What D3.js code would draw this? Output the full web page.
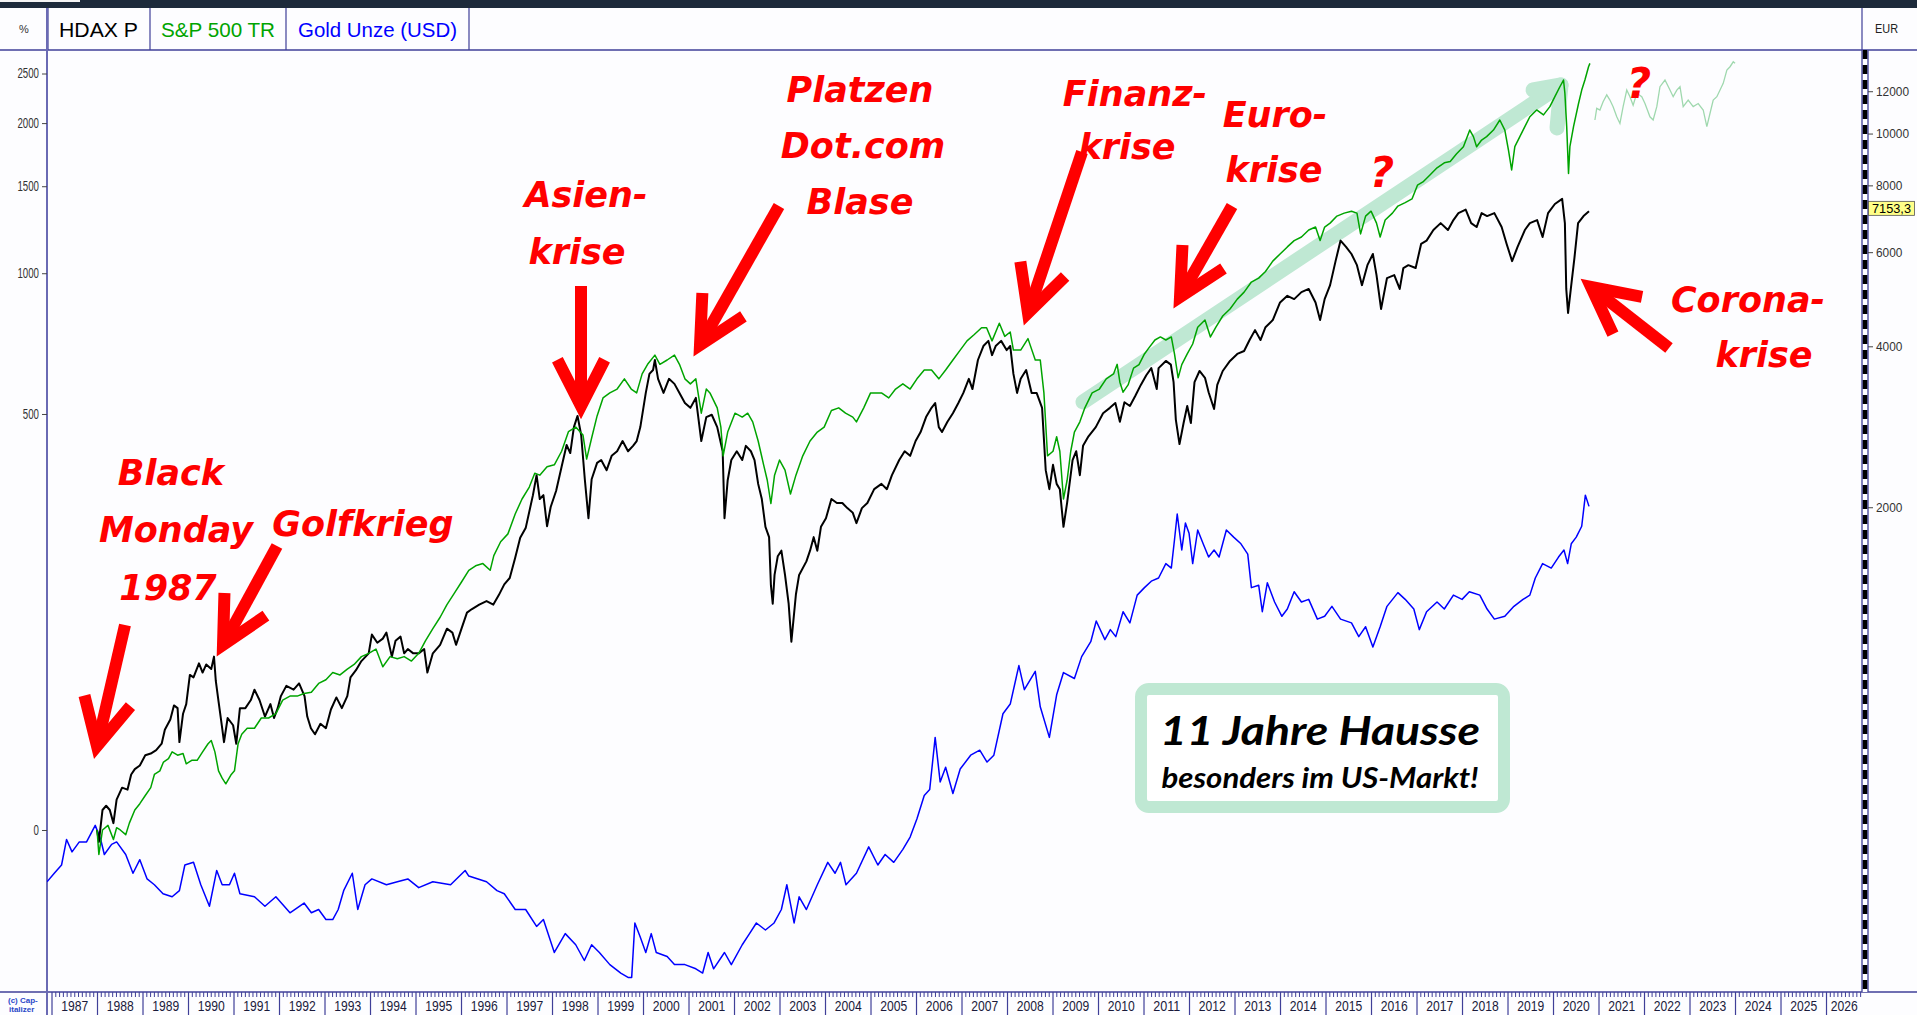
<!DOCTYPE html>
<html>
<head>
<meta charset="utf-8">
<script src="https://cdn.jsdelivr.net/npm/d3@7"></script>
<style>
html, body { margin: 0; padding: 0; background: #fff; overflow: hidden; }
svg { display: block; }
</style>
</head>
<body>
<script>
// ---- data: [decimal year, % change since start] ----
const hdax = [[1987.99,0],[1988.03,-5],[1988.11,9],[1988.19,11],[1988.27,9],[1988.35,3],[1988.42,14],[1988.54,20],[1988.66,19],[1988.74,27],[1988.82,30],[1988.93,32],[1989.05,38],[1989.17,39],[1989.29,41],[1989.41,45],[1989.48,54],[1989.60,61],[1989.68,71],[1989.76,69],[1989.80,46],[1989.88,65],[1989.95,72],[1990.03,95],[1990.11,93],[1990.23,105],[1990.31,97],[1990.39,104],[1990.50,100],[1990.56,111],[1990.60,90],[1990.66,74],[1990.74,55],[1990.78,46],[1990.86,62],[1990.98,57],[1991.05,45],[1991.13,69],[1991.25,69],[1991.37,75],[1991.45,83],[1991.56,75],[1991.68,63],[1991.80,72],[1991.88,62],[1991.96,69],[1992.03,78],[1992.15,86],[1992.31,83],[1992.43,88],[1992.55,78],[1992.61,63],[1992.69,55],[1992.78,51],[1992.90,58],[1993.02,55],[1993.13,68],[1993.25,77],[1993.37,69],[1993.49,78],[1993.56,93],[1993.68,99],[1993.80,107],[1993.96,114],[1994.03,132],[1994.15,124],[1994.27,128],[1994.35,134],[1994.47,111],[1994.55,126],[1994.66,130],[1994.74,114],[1994.82,118],[1994.94,114],[1995.06,114],[1995.18,118],[1995.25,97],[1995.37,114],[1995.53,122],[1995.68,138],[1995.80,134],[1995.88,122],[1996.00,138],[1996.12,155],[1996.23,159],[1996.39,164],[1996.55,168],[1996.70,164],[1996.82,175],[1996.94,188],[1997.06,196],[1997.18,223],[1997.29,252],[1997.41,267],[1997.57,323],[1997.65,361],[1997.72,316],[1997.80,323],[1997.88,270],[1997.96,302],[1998.08,331],[1998.20,378],[1998.31,425],[1998.39,407],[1998.47,467],[1998.55,495],[1998.63,448],[1998.71,353],[1998.79,283],[1998.86,353],[1998.98,386],
  [1999.07,392],[1999.19,371],[1999.30,401],[1999.42,411],[1999.54,434],[1999.66,411],[1999.77,423],[1999.85,434],[1999.93,467],[2000.05,557],[2000.13,613],[2000.21,625],[2000.25,657],[2000.32,598],[2000.44,557],[2000.56,598],[2000.68,583],[2000.79,557],[2000.91,529],[2001.03,516],[2001.15,543],[2001.27,434],[2001.38,492],[2001.50,498],[2001.62,467],[2001.74,411],[2001.78,283],[2001.85,351],[2001.93,392],[2002.05,411],[2002.17,392],[2002.25,423],[2002.36,411],[2002.44,392],[2002.52,344],[2002.60,316],[2002.68,269],[2002.76,253],[2002.80,187],[2002.84,165],[2002.88,200],[2002.95,225],[2003.03,233],[2003.11,200],[2003.19,165],[2003.25,125],[2003.35,176],[2003.42,200],[2003.58,218],[2003.66,233],[2003.74,253],[2003.82,233],[2003.90,269],[2004.01,283],[2004.13,316],[2004.25,309],[2004.37,309],[2004.48,300],[2004.60,292],[2004.68,275],[2004.80,300],[2004.92,309],[2005.07,334],[2005.23,344],[2005.35,334],[2005.46,361],[2005.62,392],[2005.74,411],[2005.86,401],[2005.98,434],[2006.09,455],[2006.21,492],[2006.33,516],[2006.41,529],[2006.49,467],[2006.56,455],[2006.68,480],[2006.80,502],[2006.92,529],[2007.03,557],[2007.15,598],[2007.23,568],[2007.35,657],[2007.47,704],[2007.58,722],[2007.66,673],[2007.74,704],[2007.86,722],[2007.98,690],[2008.06,704],[2008.13,613],[2008.21,557],[2008.29,598],[2008.41,625],[2008.53,557],[2008.64,557],[2008.76,516],[2008.84,371],[2008.92,334],[2009.00,382],[2009.08,344],[2009.15,334],[2009.23,269],[2009.31,309],[2009.43,392],[2009.51,411],[2009.59,361],[2009.66,423],[2009.78,445],[2009.94,467],[2010.10,502],[2010.25,516],[2010.37,529],[2010.47,480],
  [2010.57,531],[2010.69,521],[2010.81,549],[2010.93,580],[2011.05,609],[2011.16,631],[2011.28,568],[2011.32,631],[2011.48,654],[2011.59,642],[2011.65,588],[2011.70,485],[2011.78,427],[2011.87,477],[2011.95,521],[2012.03,477],[2012.11,588],[2012.22,622],[2012.34,601],[2012.42,559],[2012.54,513],[2012.61,580],[2012.73,622],[2012.89,654],[2013.05,677],[2013.20,687],[2013.32,725],[2013.44,761],[2013.56,725],[2013.67,772],[2013.83,799],[2013.99,870],[2014.15,898],[2014.30,884],[2014.46,914],[2014.62,928],[2014.77,870],[2014.87,799],[2014.97,884],[2015.09,945],[2015.21,1059],[2015.32,1166],[2015.44,1132],[2015.56,1095],[2015.68,1039],[2015.79,945],[2015.91,1039],[2016.03,1095],[2016.11,991],[2016.21,843],[2016.34,977],[2016.50,991],[2016.62,928],[2016.70,1025],[2016.81,1039],[2016.97,1025],[2017.09,1148],[2017.21,1166],[2017.36,1225],[2017.52,1265],[2017.68,1225],[2017.80,1283],[2017.91,1325],[2018.07,1347],[2018.19,1265],[2018.31,1242],[2018.42,1325],[2018.54,1307],[2018.70,1325],[2018.86,1242],[2018.97,1148],[2019.09,1059],[2019.21,1132],[2019.37,1225],[2019.48,1265],[2019.64,1283],[2019.76,1186],[2019.88,1325],[2020.03,1382],[2020.19,1415],[2020.25,1265],[2020.28,928],[2020.32,827],[2020.39,945],[2020.46,1075],[2020.54,1265],[2020.66,1307],[2020.78,1336]];

const spx = [[1987.99,0],[1988.03,-10],[1988.11,0],[1988.23,2],[1988.35,-4],[1988.42,1],[1988.50,0],[1988.62,-2],[1988.70,3],[1988.82,9],[1988.93,12],[1989.05,16],[1989.17,20],[1989.25,27],[1989.37,29],[1989.45,34],[1989.56,36],[1989.64,40],[1989.76,38],[1989.88,39],[1989.95,33],[1990.07,35],[1990.19,35],[1990.31,40],[1990.43,45],[1990.50,47],[1990.58,40],[1990.66,29],[1990.74,25],[1990.82,22],[1990.94,27],[1991.01,29],[1991.09,45],[1991.17,51],[1991.29,55],[1991.45,55],[1991.60,62],[1991.76,62],[1991.92,65],[1992.07,75],[1992.23,78],[1992.39,78],[1992.54,80],[1992.70,81],[1992.86,88],[1993.02,91],[1993.17,97],[1993.33,95],[1993.49,100],[1993.64,104],[1993.80,111],[1993.96,114],[1994.12,118],[1994.27,102],[1994.43,111],[1994.59,109],[1994.74,111],[1994.90,107],[1995.06,114],[1995.21,126],[1995.37,138],[1995.53,150],[1995.68,164],[1995.84,177],[1996.00,191],[1996.16,206],[1996.31,212],[1996.47,215],[1996.63,206],[1996.71,226],[1996.86,246],[1997.02,258],[1997.18,290],[1997.33,316],[1997.49,338],[1997.61,365],[1997.72,361],[1997.88,378],[1998.04,382],[1998.20,411],[1998.35,456],[1998.51,467],[1998.67,448],[1998.75,394],[1998.86,441],[1998.98,495],
  [1999.11,543],[1999.26,557],[1999.42,568],[1999.58,598],[1999.73,568],[1999.85,557],[1999.97,613],[2000.09,643],[2000.25,673],[2000.36,643],[2000.52,657],[2000.68,673],[2000.79,643],[2000.91,598],[2001.03,583],[2001.15,598],[2001.27,502],[2001.38,568],[2001.46,557],[2001.62,516],[2001.70,467],[2001.75,401],[2001.85,455],[2002.01,502],[2002.17,492],[2002.29,502],[2002.40,480],[2002.52,434],[2002.64,382],[2002.72,351],[2002.80,308],[2002.88,361],[2002.99,392],[2003.11,371],[2003.23,325],[2003.35,361],[2003.50,401],[2003.66,434],[2003.82,455],[2003.97,467],[2004.13,509],[2004.29,516],[2004.44,502],[2004.60,492],[2004.68,480],[2004.84,516],[2004.99,557],[2005.23,557],[2005.39,543],[2005.54,568],[2005.70,583],[2005.86,568],[2006.01,598],[2006.17,625],[2006.33,625],[2006.49,598],[2006.64,625],[2006.80,657],[2006.96,690],[2007.11,722],[2007.27,745],[2007.43,770],[2007.54,770],[2007.66,722],[2007.82,787],[2007.94,738],[2008.06,754],[2008.13,690],[2008.29,690],[2008.45,730],[2008.61,657],[2008.72,657],[2008.80,557],[2008.88,401],[2009.00,411],[2009.08,444],[2009.15,411],[2009.23,316],[2009.31,351],[2009.39,411],[2009.47,455],[2009.59,480],[2009.70,516],[2009.86,557],[2010.02,568],[2010.17,598],[2010.33,613],[2010.41,643],[2010.47,588],
  [2010.54,559],[2010.65,580],[2010.77,631],[2010.89,642],[2011.01,677],[2011.12,700],[2011.24,725],[2011.36,736],[2011.48,725],[2011.60,736],[2011.67,677],[2011.75,601],[2011.83,642],[2011.95,677],[2012.07,711],[2012.18,772],[2012.34,799],[2012.46,736],[2012.58,772],[2012.73,815],[2012.89,843],[2013.05,884],[2013.20,914],[2013.36,959],[2013.52,977],[2013.67,1008],[2013.83,1059],[2013.99,1095],[2014.15,1132],[2014.30,1166],[2014.46,1186],[2014.62,1225],[2014.77,1242],[2014.87,1166],[2014.97,1242],[2015.09,1265],[2015.24,1307],[2015.40,1325],[2015.56,1337],[2015.68,1325],[2015.76,1203],[2015.87,1307],[2015.99,1337],[2016.11,1265],[2016.19,1186],[2016.30,1283],[2016.46,1325],[2016.58,1369],[2016.74,1391],[2016.89,1415],[2017.01,1507],[2017.13,1530],[2017.29,1581],[2017.44,1632],[2017.60,1670],
  [2017.73,1680],[2017.87,1740],[2018.02,1797],[2018.16,1938],[2018.24,1881],[2018.31,1797],[2018.42,1852],[2018.53,1881],[2018.68,1938],[2018.82,2028],[2018.93,1938],[2019.01,1770],[2019.08,1616],[2019.15,1797],[2019.26,1881],[2019.37,1968],[2019.48,2058],[2019.63,2122],[2019.78,2076],[2019.92,2154],[2020.03,2253],[2020.14,2356],[2020.22,2428],[2020.25,2288],[2020.29,1968],[2020.33,1591],[2020.36,1797],[2020.44,1968],[2020.55,2185],[2020.62,2321],[2020.69,2428],[2020.77,2577],[2020.80,2616]];

// faded "what if" continuation of the S&P line
const spxProj = [[2020.91,2028],[2020.95,2138],[2021.02,2122],[2021.09,2203],[2021.17,2271],[2021.24,2219],[2021.31,2154],[2021.39,2058],[2021.46,1997],[2021.53,2154],[2021.61,2321],[2021.68,2253],[2021.75,2169],[2021.83,2288],[2021.94,2253],[2022.01,2185],[2022.12,2058],[2022.19,2028],[2022.27,2154],[2022.34,2356],[2022.45,2428],[2022.56,2321],[2022.63,2253],[2022.71,2321],[2022.78,2356],[2022.85,2154],[2022.96,2219],[2023.07,2154],[2023.18,2185],[2023.29,2122],[2023.37,1968],[2023.44,2091],[2023.51,2219],[2023.59,2253],[2023.73,2392],[2023.81,2539],[2023.88,2577],[2023.95,2634],[2023.99,2616]];

const gold = [[1986.89,-20],[1987.05,-17],[1987.21,-14],[1987.32,-4],[1987.44,-9],[1987.60,-5],[1987.76,-5],[1987.95,2],[1988.07,-4],[1988.15,-10],[1988.31,-6],[1988.42,-5],[1988.62,-10],[1988.78,-17],[1988.93,-12],[1989.09,-19],[1989.25,-21],[1989.44,-24],[1989.64,-25],[1989.80,-23],[1989.92,-14],[1990.11,-13],[1990.27,-21],[1990.46,-28],[1990.62,-16],[1990.74,-21],[1990.90,-21],[1991.01,-17],[1991.13,-24],[1991.45,-25],[1991.68,-28],[1991.92,-25],[1992.23,-30],[1992.54,-27],[1992.70,-30],[1992.86,-29],[1993.02,-32],[1993.17,-32],[1993.29,-29],[1993.41,-23],[1993.60,-17],[1993.72,-29],[1993.88,-21],[1994.03,-19],[1994.35,-21],[1994.59,-20],[1994.82,-19],[1995.06,-22],[1995.37,-20],[1995.76,-21],[1996.08,-16],[1996.16,-18],[1996.55,-20],[1996.78,-23],[1996.94,-24],[1997.18,-29],[1997.41,-29],[1997.65,-34],[1997.80,-32],[1998.04,-41],[1998.28,-36],[1998.51,-39],[1998.70,-43],[1998.86,-39],
  [1999.03,-41],[1999.26,-44],[1999.50,-46],[1999.66,-47],[1999.74,-47],[1999.81,-33],[1999.93,-37],[2000.05,-41],[2000.17,-36],[2000.28,-41],[2000.52,-42],[2000.68,-44],[2000.91,-44],[2001.15,-45],[2001.30,-46],[2001.42,-41],[2001.54,-45],[2001.78,-41],[2001.93,-44],[2002.17,-39],[2002.33,-36],[2002.48,-33],[2002.68,-35],[2002.87,-33],[2003.03,-29],[2003.15,-21],[2003.31,-33],[2003.42,-25],[2003.58,-29],[2003.82,-21],[2004.05,-13],[2004.21,-17],[2004.33,-13],[2004.45,-21],[2004.68,-17],[2004.95,-7],[2005.15,-14],[2005.31,-10],[2005.50,-13],[2005.70,-8],[2005.86,-3],[2006.01,5],[2006.17,16],[2006.29,19],[2006.41,49],[2006.52,23],[2006.64,31],[2006.80,17],[2006.96,30],[2007.19,38],[2007.39,41],[2007.55,34],[2007.70,38],[2007.90,65],[2008.06,72],[2008.25,103],[2008.37,83],[2008.61,98],[2008.72,70],[2008.92,49],[2009.08,79],[2009.23,97],[2009.47,92],[2009.63,111],[2009.83,125],[2009.95,146],
  [2010.14,127],[2010.26,137],[2010.38,130],[2010.54,156],[2010.69,144],[2010.85,175],[2011.01,184],[2011.16,192],[2011.32,196],[2011.48,215],[2011.60,209],[2011.67,249],[2011.73,290],[2011.83,234],[2011.91,275],[2011.99,259],[2012.07,215],[2012.18,264],[2012.30,243],[2012.42,224],[2012.54,234],[2012.65,224],[2012.81,264],[2012.97,253],[2013.13,243],[2013.28,228],[2013.36,184],[2013.52,187],[2013.60,156],[2013.71,190],[2013.87,167],[2014.03,151],[2014.15,159],[2014.30,179],[2014.46,167],[2014.62,170],[2014.81,148],[2014.97,151],[2015.13,162],[2015.32,148],[2015.56,144],[2015.72,130],[2015.87,140],[2016.03,120],[2016.19,140],[2016.34,162],[2016.58,178],[2016.74,170],[2016.93,159],[2017.05,137],[2017.21,156],[2017.44,167],[2017.60,159],[2017.80,175],[2017.99,170],[2018.15,179],[2018.38,175],[2018.54,159],[2018.70,148],[2018.93,151],[2019.13,162],[2019.33,170],[2019.48,175],[2019.60,196],[2019.76,215],[2019.95,209],[2020.11,224],[2020.23,234],[2020.31,215],[2020.39,243],[2020.50,253],[2020.62,270],[2020.70,323],[2020.78,303]];

const pctTicks = [0, 500, 1000, 1500, 2000, 2500];
const eurTicks = [2000, 4000, 6000, 8000, 10000, 12000];
const hdaxLastEur = 7153.3;
const firstYear = 1987, lastYear = 2026;
const legendNames = ["HDAX P", "S&P 500 TR", "Gold Unze (USD)"];

// ---- layout ----
const W = 1917, H = 1015;
const plot = { left: 47, right: 1862, top: 50, bottom: 992 };
const navy = "#3f3f98";
const redC = "#ff0000";
const mint = "#bfe8d3";

const svg = d3.select("body").append("svg")
  .attr("width", W).attr("height", H)
  .style("font-family", "'Liberation Sans', Arial, sans-serif");

svg.append("rect").attr("width", W).attr("height", H).attr("fill", "#fdfdff");

const x = d3.scaleLinear().domain([1986.89, 2026.78]).range([plot.left, plot.right]);
const y = d3.scaleLog().domain([0.4977, 28.77]).range([plot.bottom, plot.top]);
const ratio = p => 1 + p / 100;

svg.append("clipPath").attr("id", "plotclip").append("rect")
  .attr("x", plot.left).attr("y", plot.top)
  .attr("width", plot.right - plot.left).attr("height", plot.bottom - plot.top);

// header band
svg.append("rect").attr("x", 0).attr("y", 0).attr("width", W).attr("height", 8).attr("fill", "#1d2a3b");
svg.append("rect").attr("x", 0).attr("y", 0).attr("width", 80).attr("height", 2).attr("fill", "#f4f4f4");

[48, 150, 286, 469].forEach(sx => {
  svg.append("line").attr("x1", sx).attr("x2", sx).attr("y1", 8).attr("y2", plot.top)
    .attr("stroke", navy).attr("stroke-width", 1.2);
});
svg.append("line").attr("x1", plot.right).attr("x2", plot.right).attr("y1", 8).attr("y2", plot.top)
  .attr("stroke", navy).attr("stroke-width", 1.2);

svg.append("text").attr("x", 24).attr("y", 33).attr("text-anchor", "middle")
  .attr("font-size", 11).attr("fill", "#333").text("%");

const legendColors = ["#000000", "#00a400", "#0000ff"];
const legendX = [59, 161, 298];
const legendW = [79, 114, 159];
legendNames.forEach((n, i) => {
  svg.append("text").attr("x", legendX[i]).attr("y", 37)
    .attr("font-size", 21).attr("fill", legendColors[i])
    .attr("textLength", legendW[i]).attr("lengthAdjust", "spacingAndGlyphs")
    .text(n);
});
svg.append("text").attr("x", 1875).attr("y", 33).attr("font-size", 13).attr("fill", "#222")
  .attr("textLength", 23).attr("lengthAdjust", "spacingAndGlyphs").text("EUR");

// frame lines
svg.append("line").attr("x1", 0).attr("x2", W).attr("y1", plot.top).attr("y2", plot.top)
  .attr("stroke", navy).attr("stroke-width", 1.5);
svg.append("line").attr("x1", 0).attr("x2", W).attr("y1", plot.bottom).attr("y2", plot.bottom)
  .attr("stroke", navy).attr("stroke-width", 1.5);
svg.append("line").attr("x1", plot.left).attr("x2", plot.left).attr("y1", 8).attr("y2", H)
  .attr("stroke", "#6a6ab4").attr("stroke-width", 2);

// right striped bar
svg.append("rect").attr("x", plot.right).attr("y", plot.top).attr("width", 6)
  .attr("height", plot.bottom - plot.top).attr("fill", "#fff");
svg.append("line").attr("x1", plot.right + 3).attr("x2", plot.right + 3)
  .attr("y1", plot.top).attr("y2", plot.bottom)
  .attr("stroke", "#000").attr("stroke-width", 5).attr("stroke-dasharray", "9,6");
[plot.right, plot.right + 6].forEach(sx => {
  svg.append("line").attr("x1", sx).attr("x2", sx).attr("y1", plot.top).attr("y2", plot.bottom)
    .attr("stroke", navy).attr("stroke-width", 1.3);
});

// ---- trend band (behind the lines) ----
const band = svg.append("g").attr("clip-path", "url(#plotclip)")
  .attr("stroke", mint).attr("stroke-width", 15).attr("fill", "none").attr("stroke-linecap", "round");
band.append("line").attr("x1", 1083).attr("y1", 402).attr("x2", 1561).attr("y2", 85);
band.append("polyline").attr("points", "1533,90 1561,85 1557,128").attr("stroke-linejoin", "round");

// ---- series ----
const line = d3.line().x(d => x(d[0])).y(d => y(ratio(d[1])));
const g = svg.append("g").attr("clip-path", "url(#plotclip)");
g.append("path").datum(spxProj).attr("d", line).attr("fill", "none")
  .attr("stroke", "#9fd8ae").attr("stroke-width", 1.3);
g.append("path").datum(gold).attr("d", line).attr("fill", "none")
  .attr("stroke", "#0000ff").attr("stroke-width", 1.5).attr("stroke-linejoin", "round");
g.append("path").datum(hdax).attr("d", line).attr("fill", "none")
  .attr("stroke", "#000").attr("stroke-width", 2).attr("stroke-linejoin", "round");
g.append("path").datum(spx).attr("d", line).attr("fill", "none")
  .attr("stroke", "#00a400").attr("stroke-width", 1.5).attr("stroke-linejoin", "round");

// ---- left axis (%) ----
const yl = svg.append("g").attr("transform", `translate(${plot.left},0)`)
  .call(d3.axisLeft(y).tickValues(pctTicks.map(ratio)).tickSize(5).tickPadding(3)
    .tickFormat(v => String(Math.round((v - 1) * 100))));
yl.select(".domain").remove();
yl.selectAll("line").attr("stroke", "#444");
yl.selectAll("text").attr("font-size", 14).attr("fill", "#333")
  .attr("font-family", "'Liberation Sans', Arial, sans-serif")
  .attr("textLength", function () { return this.textContent.length * 5.4; })
  .attr("lengthAdjust", "spacingAndGlyphs");

// ---- right axis (EUR) ----
const hdaxBase = hdaxLastEur / ratio(hdax[hdax.length - 1][1]);
const yr = svg.append("g").attr("transform", `translate(${plot.right + 6},0)`)
  .call(d3.axisRight(y).tickValues(eurTicks.map(v => v / hdaxBase)).tickSize(5).tickPadding(3)
    .tickFormat(v => String(Math.round(v * hdaxBase / 1000) * 1000)));
yr.select(".domain").remove();
yr.selectAll("line").attr("stroke", "#444");
yr.selectAll("text").attr("font-size", 13).attr("fill", "#333")
  .attr("font-family", "'Liberation Sans', Arial, sans-serif")
  .attr("textLength", function () { return this.textContent.length * 6.6; })
  .attr("lengthAdjust", "spacingAndGlyphs");

// last value flag
const yLast = y(ratio(hdax[hdax.length - 1][1]));
svg.append("rect").attr("x", plot.right + 6.5).attr("y", yLast - 10).attr("width", 46).attr("height", 14)
  .attr("fill", "#ffff88").attr("stroke", "#555").attr("stroke-width", 0.8);
svg.append("text").attr("x", plot.right + 10).attr("y", yLast + 1.5).attr("font-size", 13).attr("fill", "#000")
  .attr("textLength", 39).attr("lengthAdjust", "spacingAndGlyphs")
  .text(hdaxLastEur.toFixed(1).replace(".", ","));

// ---- bottom ruler axis ----
const bx = svg.append("g");
const years = d3.range(firstYear, lastYear + 1);
years.forEach(yr0 => {
  bx.append("line").attr("x1", x(yr0)).attr("x2", x(yr0)).attr("y1", plot.bottom).attr("y2", H)
    .attr("stroke", navy).attr("stroke-width", 1.2);
  for (let m = 1; m < 12; m++) {
    const xm = x(yr0 + m / 12);
    if (xm > plot.right) break;
    bx.append("line").attr("x1", xm).attr("x2", xm).attr("y1", plot.bottom).attr("y2", plot.bottom + 5)
      .attr("stroke", navy).attr("stroke-width", 1);
  }
  const segEnd = Math.min(x(yr0 + 1), plot.right);
  bx.append("text").attr("x", (x(yr0) + segEnd) / 2).attr("y", 1011)
    .attr("text-anchor", "middle").attr("font-size", 15).attr("fill", "#1a1a3a")
    .attr("textLength", 27).attr("lengthAdjust", "spacingAndGlyphs").text(yr0);
});

// copyright mark
svg.append("text").attr("x", 8).attr("y", 1003).attr("font-size", 8).attr("font-weight", "bold")
  .attr("fill", "#2a48c8").text("(c) Cap-");
svg.append("text").attr("x", 9).attr("y", 1012).attr("font-size", 8).attr("font-weight", "bold")
  .attr("fill", "#2a48c8").text("italizer");

// ---- red annotations ----
const notes = [
  ["Black", 171, 485], ["Monday", 176, 542], ["1987", 168, 600],
  ["Golfkrieg", 363, 536],
  ["Asien-", 586, 207], ["krise", 577, 264],
  ["Platzen", 860, 102], ["Dot.com", 863, 158], ["Blase", 860, 214],
  ["Finanz-", 1135, 106], ["krise", 1127, 159],
  ["Euro-", 1275, 127], ["krise", 1274, 182],
  ["Corona-", 1748, 312], ["krise", 1764, 367]
];
const ann = svg.append("g").attr("fill", redC)
  .attr("font-family", "'DejaVu Sans', Verdana, sans-serif")
  .attr("font-weight", "bold").attr("font-style", "italic").attr("text-anchor", "middle");
notes.forEach(n => ann.append("text").attr("x", n[1]).attr("y", n[2]).attr("font-size", 35).text(n[0]));
ann.append("text").attr("x", 1382).attr("y", 187).attr("font-size", 42).text("?");
ann.append("text").attr("x", 1639).attr("y", 98).attr("font-size", 42).text("?");

// arrows: tail -> tip
const arrows = [
  [125, 625, 97, 746], [277, 546, 223, 645], [581, 286, 581, 406],
  [779, 206, 700, 345], [1082, 152, 1028, 313], [1232, 206, 1180, 297],
  [1669, 348, 1591, 287]
];
const ar = svg.append("g").attr("stroke", redC).attr("stroke-width", 12).attr("fill", "none");
arrows.forEach(a => {
  const [tx, ty, hx, hy] = a;
  const ang = Math.atan2(ty - hy, tx - hx);
  const L = 52, spread = 27 * Math.PI / 180;
  const p1 = [hx + L * Math.cos(ang - spread), hy + L * Math.sin(ang - spread)];
  const p2 = [hx + L * Math.cos(ang + spread), hy + L * Math.sin(ang + spread)];
  ar.append("line").attr("x1", tx).attr("y1", ty).attr("x2", hx).attr("y2", hy);
  ar.append("polyline").attr("points", `${p1[0]},${p1[1]} ${hx},${hy} ${p2[0]},${p2[1]}`)
    .attr("stroke-linejoin", "miter").attr("stroke-miterlimit", 10);
});

// ---- info box ----
svg.append("rect").attr("x", 1141).attr("y", 689).attr("width", 363).attr("height", 118).attr("rx", 8)
  .attr("fill", "#fff").attr("stroke", mint).attr("stroke-width", 12);
svg.append("text").attr("x", 1320).attr("y", 745).attr("text-anchor", "middle")
  .attr("font-family", "Lato, 'Open Sans', sans-serif").attr("font-weight", "bold").attr("font-style", "italic")
  .attr("font-size", 40).attr("fill", "#000")
  .attr("textLength", 320).attr("lengthAdjust", "spacingAndGlyphs").text("11 Jahre Hausse");
svg.append("text").attr("x", 1320).attr("y", 788).attr("text-anchor", "middle")
  .attr("font-family", "Lato, 'Open Sans', sans-serif").attr("font-weight", "bold").attr("font-style", "italic")
  .attr("font-size", 28).attr("fill", "#000")
  .attr("textLength", 317).attr("lengthAdjust", "spacingAndGlyphs").text("besonders im US-Markt!");
</script>
</body>
</html>
